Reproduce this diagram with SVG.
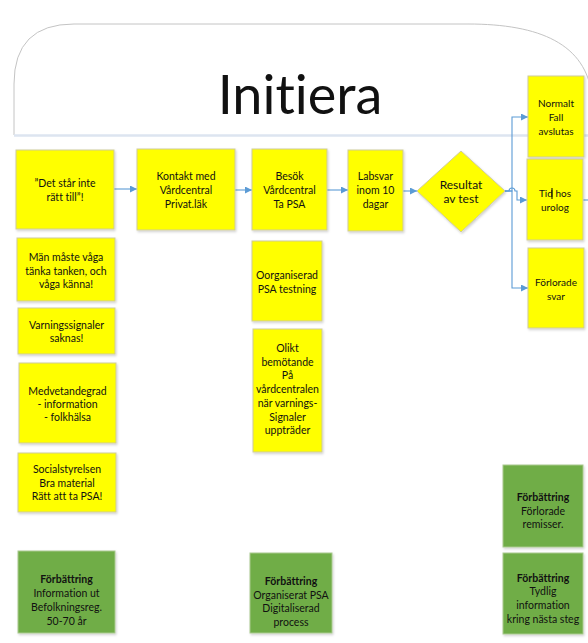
<svg xmlns="http://www.w3.org/2000/svg" width="588" height="643" viewBox="0 0 588 643">
<defs>
<marker id="ah" viewBox="0 0 10 10" refX="10" refY="5" markerWidth="7" markerHeight="7" markerUnits="userSpaceOnUse" orient="auto">
<path d="M0,0 L10,5 L0,10 z" fill="#5b9bd5"/>
</marker>
<filter id="sh" x="-10%" y="-10%" width="130%" height="130%">
<feDropShadow dx="1" dy="1.5" stdDeviation="1" flood-color="#000" flood-opacity="0.18"/>
</filter>
</defs>
<style>
.y{fill:#ffff00;stroke:#cfcb9c;stroke-width:1;filter:url(#sh)}
.g{fill:#70ad47;stroke:#a9c98f;stroke-width:1;filter:url(#sh)}
text{font-family:Lato,"Liberation Sans",sans-serif;fill:#111;text-anchor:middle;font-size:10.5px;font-variant-ligatures:none;font-feature-settings:"liga" 0}
.s{font-size:10px}
.d{font-size:12px}
.b{font-weight:bold}
.c{fill:none;stroke:#5b9bd5;stroke-width:1.1}
</style>
<rect width="588" height="643" fill="#fff"/>
<g id="header">
<path d="M14,135 V84 Q14,24 74,24 H468 C540,24 586,44 592,96" fill="#fff" stroke="#c4c4c4" stroke-width="1"/>
<line x1="14" y1="135.5" x2="588" y2="135.5" stroke="#dde5f0" stroke-width="2.5"/>
<text x="300" y="114" style="font-size:54px">Initiera</text>
</g>
<g id="connectors">
<path class="c" d="M114,189 H137" marker-end="url(#ah)"/>
<path class="c" d="M235,190 H252" marker-end="url(#ah)"/>
<path class="c" d="M327,190 H348" marker-end="url(#ah)"/>
<path class="c" d="M403,191 H417" marker-end="url(#ah)"/>
<path class="c" d="M505,191 H512 V117 H528" marker-end="url(#ah)"/>
<path class="c" d="M505,191 H512 V288 H528" marker-end="url(#ah)"/>
<path class="c" d="M505,191 H509 A3,3 0 0 1 515,191 H517 V200 H527" marker-end="url(#ah)"/>
<path class="c" d="M583,200 H588"/>
</g>
<g id="n1"><rect class="y" x="16" y="150" width="98" height="79"/><text x="65" y="187">”Det står inte</text><text x="65" y="201">rätt till”!</text></g>
<g id="n2"><rect class="y" x="137" y="149" width="98" height="81"/><text x="186" y="180">Kontakt med</text><text x="186" y="194">Vårdcentral</text><text x="186" y="208">Privat.läk</text></g>
<g id="n3"><rect class="y" x="252" y="149" width="75" height="81"/><text x="289.5" y="180">Besök</text><text x="289.5" y="194">Vårdcentral</text><text x="289.5" y="208">Ta PSA</text></g>
<g id="n4"><rect class="y" x="348" y="150" width="55" height="81"/><text x="375.5" y="180">Labsvar</text><text x="375.5" y="194">inom 10</text><text x="375.5" y="208">dagar</text></g>
<g id="n5"><path class="y" d="M461,151 L505,191 L461,232 L417,191 z"/><text class="d" x="461" y="189">Resultat</text><text class="d" x="461" y="203">av test</text></g>
<g id="n6"><rect class="y" x="528" y="76" width="56" height="81"/><text class="s" x="556" y="107">Normalt</text><text class="s" x="556" y="121">Fall</text><text class="s" x="556" y="135">avslutas</text></g>
<g id="n7"><rect class="y" x="527" y="159" width="56" height="81"/><text class="s" x="555" y="196.5">Tid hos</text><line x1="552" y1="188" x2="552" y2="199" stroke="#000" stroke-width="1"/><text class="s" x="555" y="210.5">urolog</text></g>
<g id="n8"><rect class="y" x="528" y="248" width="56" height="80"/><text class="s" x="556" y="285.5">Förlorade</text><text class="s" x="556" y="299.5">svar</text></g>
<g id="n9"><rect class="y" x="17" y="238" width="98" height="63"/><text x="66" y="261">Män måste våga</text><text x="66" y="275">tänka tanken, och</text><text x="66" y="288">våga känna!</text></g>
<g id="n10"><rect class="y" x="18" y="308" width="97" height="46"/><text x="66.5" y="329">Varningssignaler</text><text x="66.5" y="342">saknas!</text></g>
<g id="n11"><rect class="y" x="19" y="363" width="97" height="80"/><text x="67.5" y="395">Medvetandegrad</text><text x="67.5" y="408">- information</text><text x="67.5" y="421">- folkhälsa</text></g>
<g id="n12"><rect class="y" x="18" y="453" width="98" height="59"/><text x="67" y="473">Socialstyrelsen</text><text x="67" y="487">Bra material</text><text x="67" y="500">Rätt att ta PSA!</text></g>
<g id="n13"><rect class="y" x="252" y="241" width="70" height="80"/><text x="287" y="279">Oorganiserad</text><text x="287" y="293">PSA testning</text></g>
<g id="n14"><rect class="y" x="253" y="329" width="69" height="123"/><text x="287.5" y="352">Olikt</text><text x="287.5" y="366">bemötande</text><text x="287.5" y="379">På</text><text x="287.5" y="393">vårdcentralen</text><text x="287.5" y="407">när varnings-</text><text x="287.5" y="421">Signaler</text><text x="287.5" y="434">uppträder</text></g>
<g id="n15"><rect class="g" x="18" y="551" width="97" height="82"/><text class="b" x="66.5" y="583">Förbättring</text><text x="66.5" y="597">Information ut</text><text x="66.5" y="611">Befolkningsreg.</text><text x="66.5" y="625">50-70 år</text></g>
<g id="n16"><rect class="g" x="250" y="553" width="82" height="80"/><text class="b" x="291" y="585">Förbättring</text><text x="291" y="599">Organiserat PSA</text><text x="291" y="612">Digitaliserad</text><text x="291" y="626">process</text></g>
<g id="n17"><rect class="g" x="503" y="465" width="80" height="82"/><text class="b" x="543" y="501">Förbättring</text><text x="543" y="515">Förlorade</text><text x="543" y="528">remisser.</text></g>
<g id="n18"><rect class="g" x="503" y="553" width="80" height="81"/><text class="b" x="543" y="582">Förbättring</text><text x="543" y="595">Tydlig</text><text x="543" y="609">information</text><text x="543" y="623">kring nästa steg</text></g>
</svg>
